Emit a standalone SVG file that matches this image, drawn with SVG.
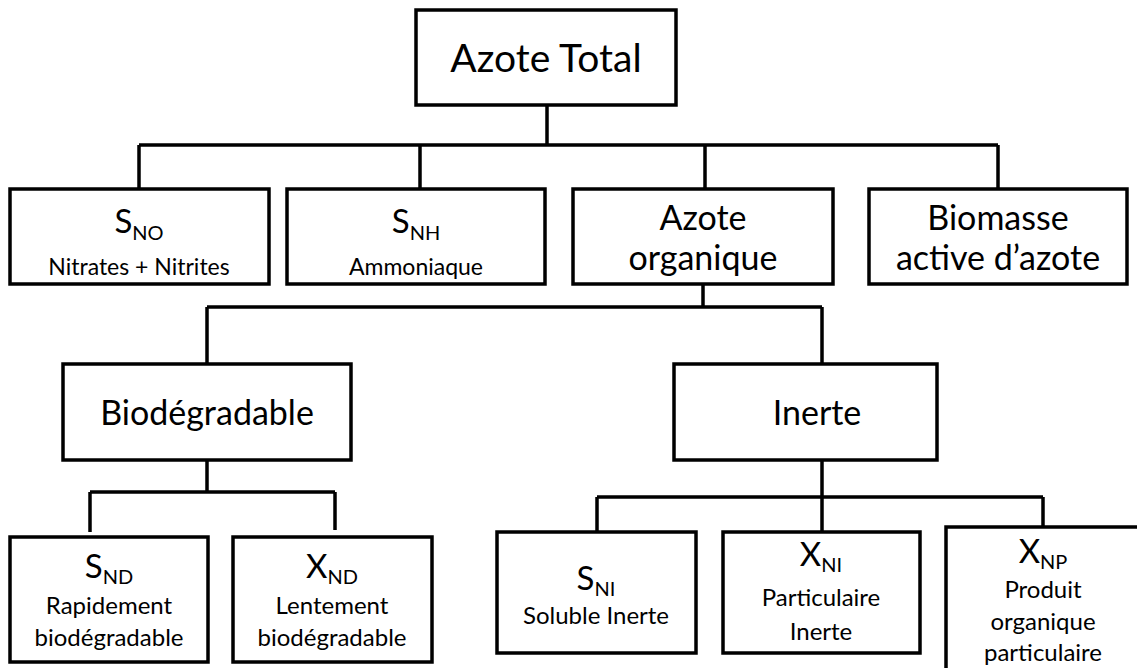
<svg xmlns="http://www.w3.org/2000/svg" width="1137" height="668" viewBox="0 0 1137 668">
<style>
.box{fill:#fff;stroke:#000;stroke-width:3.5}
.con{fill:none;stroke:#000;stroke-width:3.5}
text{font-family:Lato,"Open Sans",sans-serif;fill:#000;text-anchor:middle}
.big{font-size:34px}
.title{font-size:39px}
.sym{font-size:33px}
.sub{font-size:20px}
.small{font-size:23px}
.mid{font-size:24px}
</style>
<rect width="1137" height="668" fill="#fff"/>
<g id="connectors">
<path class="con" d="M547 105V145M139 145H998M139 145V189M420 145V189M705 145V189M998 145V189"/>
<path class="con" d="M703 284V307M207 307H822M207 307V364M822 307V364"/>
<path class="con" d="M207 460V492M90 492H335M90 492V532M335 492V530"/>
<path class="con" d="M822 460V497M597 497H1043M597 497V532M822 497V532M1043 497V530"/>
</g>
<g id="azote-total"><rect class="box" x="416" y="10" width="260" height="95"/><text class="title" x="546" y="72">Azote Total</text></g>
<g id="sno"><rect class="box" x="10" y="189" width="259" height="95"/><text class="sym" x="139" y="233">S<tspan class="sub" dy="7">NO</tspan></text><text class="small" x="139" y="275">Nitrates + Nitrites</text></g>
<g id="snh"><rect class="box" x="287" y="189" width="258" height="95"/><text class="sym" x="416" y="233">S<tspan class="sub" dy="7">NH</tspan></text><text class="small" x="416" y="275">Ammoniaque</text></g>
<g id="azote-organique"><rect class="box" x="573" y="189" width="260" height="95"/><text class="big" x="703" y="230">Azote</text><text class="big" x="703" y="270">organique</text></g>
<g id="biomasse"><rect class="box" x="869" y="189" width="258" height="95"/><text class="big" x="998" y="230">Biomasse</text><text class="big" x="998" y="270">active d’azote</text></g>
<g id="biodegradable"><rect class="box" x="63" y="364" width="288" height="96"/><text class="big" x="207" y="425">Biodégradable</text></g>
<g id="inerte"><rect class="box" x="674" y="364" width="263" height="96"/><text class="big" x="817" y="425">Inerte</text></g>
<g id="snd"><rect class="box" x="10" y="537" width="198" height="125"/><text class="sym" x="109" y="578">S<tspan class="sub" dy="6">ND</tspan></text><text class="mid" x="109" y="614">Rapidement</text><text class="mid" x="109" y="646">biodégradable</text></g>
<g id="xnd"><rect class="box" x="233" y="537" width="199" height="125"/><text class="sym" x="332" y="578">X<tspan class="sub" dy="6">ND</tspan></text><text class="mid" x="332" y="614">Lentement</text><text class="mid" x="332" y="646">biodégradable</text></g>
<g id="sni"><rect class="box" x="497" y="532" width="199" height="121"/><text class="sym" x="596" y="590">S<tspan class="sub" dy="6">NI</tspan></text><text class="mid" x="596" y="624">Soluble Inerte</text></g>
<g id="xni"><rect class="box" x="723" y="532" width="197" height="121"/><text class="sym" x="821" y="566">X<tspan class="sub" dy="6">NI</tspan></text><text class="mid" x="821" y="606">Particulaire</text><text class="mid" x="821" y="640">Inerte</text></g>
<g id="xnp"><rect class="box" x="946" y="527" width="220" height="170"/><text class="sym" x="1043" y="563">X<tspan class="sub" dy="6">NP</tspan></text><text class="mid" x="1043" y="598">Produit</text><text class="mid" x="1043" y="630">organique</text><text class="mid" x="1043" y="661">particulaire</text></g>
</svg>
